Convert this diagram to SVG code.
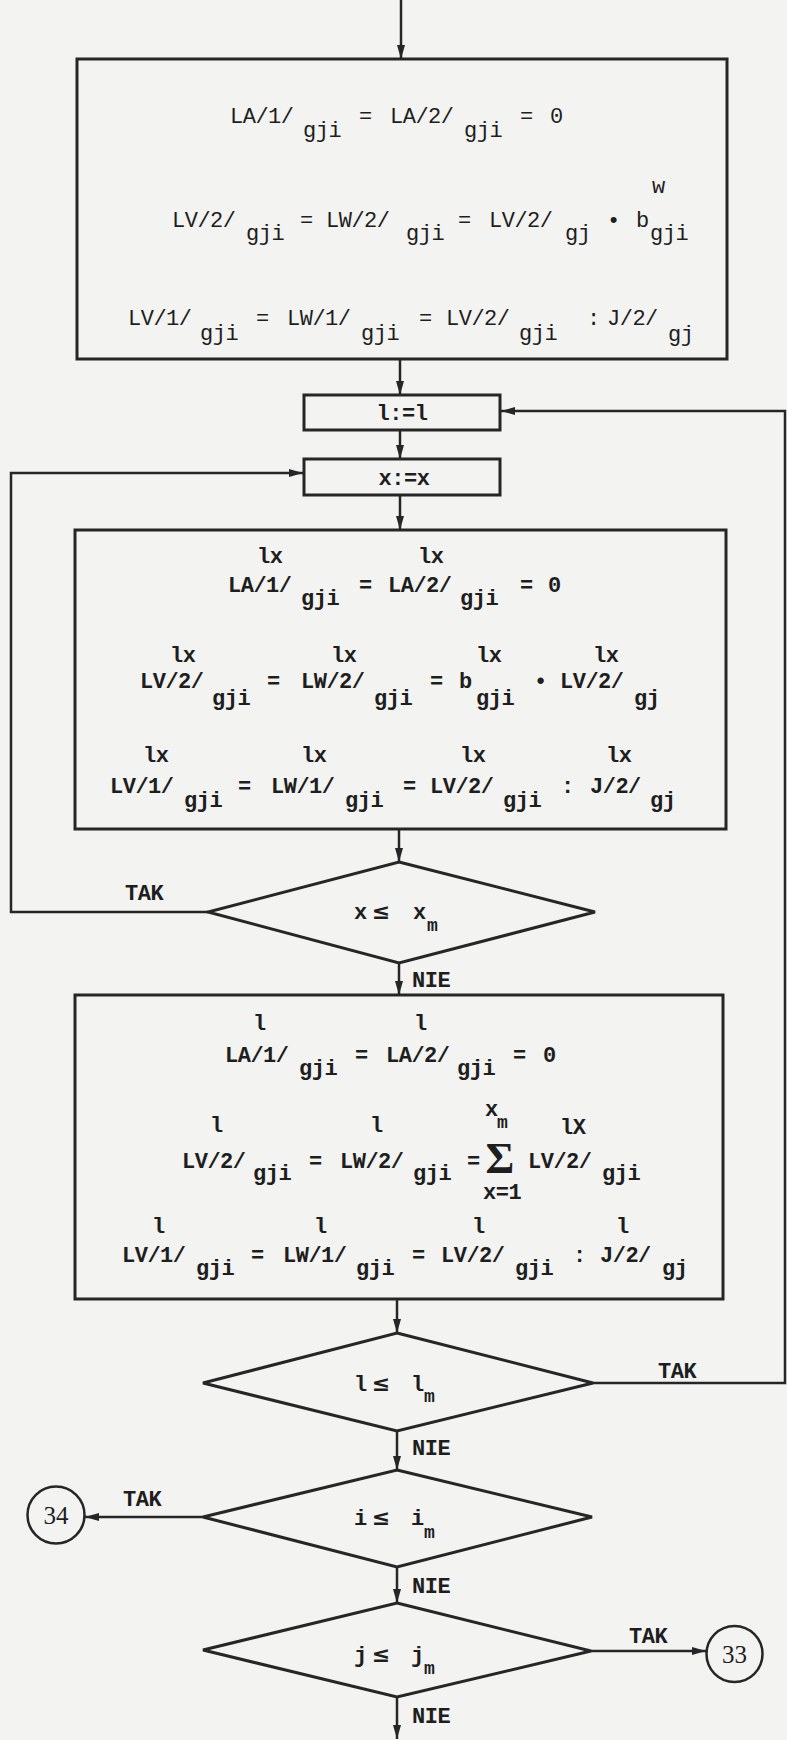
<svg xmlns="http://www.w3.org/2000/svg" width="787" height="1740" viewBox="0 0 787 1740">
<defs>
<marker id="ah" markerUnits="userSpaceOnUse" markerWidth="14" markerHeight="8" refX="14" refY="4" orient="auto">
<path d="M0,0 L14,4 L0,8 z" fill="#262626"/>
</marker>
</defs>
<style>
.bx{fill:#f3f3f1;stroke:#262626;stroke-width:3}
.ln{fill:none;stroke:#262626;stroke-width:2.5;marker-end:url(#ah)}
text{font-family:"Liberation Mono","DejaVu Sans Mono",monospace;fill:#1e1e1e}
.b{font-size:22px;font-weight:bold;letter-spacing:-0.5px}
.r{font-size:22px;letter-spacing:-0.5px}
.sm{font-size:18px;font-weight:bold}
.le{font-family:"DejaVu Sans",sans-serif;font-size:22px;font-weight:bold;text-anchor:middle}
.sg{font-family:"Liberation Serif",serif;font-size:44px;font-weight:bold;text-anchor:middle}
.c{font-family:"Liberation Serif",serif;font-size:25px;text-anchor:middle}
</style>
<rect width="787" height="1740" fill="#f3f3f1"/>

<g id="connectors">
<path class="ln" d="M401,0 V59"/>
<path class="ln" d="M400,359 V395"/>
<path class="ln" d="M400,430 V459"/>
<path class="ln" d="M400,495 V530"/>
<path class="ln" d="M399,829 V862"/>
<path class="ln" d="M208,912 H11 V473 H303"/>
<path class="ln" d="M399,963 V995"/>
<path class="ln" d="M397,1299 V1333"/>
<path class="ln" d="M593,1383 H785 V411 H501"/>
<path class="ln" d="M397,1431 V1470"/>
<path class="ln" d="M203,1517 H85"/>
<path class="ln" d="M397,1567 V1603"/>
<path class="ln" d="M591,1651 H706"/>
<path class="ln" d="M397,1697 V1739"/>
</g>

<g id="box1">
<rect class="bx" x="77" y="59" width="650" height="300"/>
<text class="r" x="230" y="123">LA/1/</text>
<text class="r" x="303" y="137">gji</text>
<text class="r" x="359" y="123">=</text>
<text class="r" x="390" y="123">LA/2/</text>
<text class="r" x="464" y="137">gji</text>
<text class="r" x="520" y="123">=</text>
<text class="r" x="550" y="123">0</text>

<text class="r" x="172" y="227">LV/2/</text>
<text class="r" x="246" y="240">gji</text>
<text class="r" x="300" y="227">=</text>
<text class="r" x="326" y="227">LW/2/</text>
<text class="r" x="406" y="240">gji</text>
<text class="r" x="458" y="227">=</text>
<text class="r" x="489" y="227">LV/2/</text>
<text class="r" x="565" y="240">gj</text>
<text class="r" x="607" y="227">•</text>
<text class="r" x="636" y="227">b</text>
<text class="r" x="652" y="193">w</text>
<text class="r" x="650" y="240">gji</text>

<text class="r" x="128" y="325">LV/1/</text>
<text class="r" x="200" y="340">gji</text>
<text class="r" x="256" y="325">=</text>
<text class="r" x="287" y="325">LW/1/</text>
<text class="r" x="361" y="340">gji</text>
<text class="r" x="419" y="325">=</text>
<text class="r" x="446" y="325">LV/2/</text>
<text class="r" x="519" y="340">gji</text>
<text class="r" x="587" y="325">:</text>
<text class="r" x="607" y="325">J/2/</text>
<text class="r" x="668" y="341">gj</text>
</g>

<g id="init-l">
<rect class="bx" x="304" y="395" width="196" height="35"/>
<text class="b" x="402" y="420" text-anchor="middle">l:=l</text>
</g>

<g id="init-x">
<rect class="bx" x="304" y="459" width="196" height="36"/>
<text class="b" x="404" y="485" text-anchor="middle">x:=x</text>
</g>

<g id="box2">
<rect class="bx" x="75" y="530" width="651" height="299"/>
<text class="b" x="257" y="563">lx</text>
<text class="b" x="228" y="592">LA/1/</text>
<text class="b" x="301" y="605">gji</text>
<text class="b" x="359" y="592">=</text>
<text class="b" x="418" y="563">lx</text>
<text class="b" x="388" y="592">LA/2/</text>
<text class="b" x="460" y="605">gji</text>
<text class="b" x="520" y="592">=</text>
<text class="b" x="548" y="592">0</text>

<text class="b" x="170" y="662">lx</text>
<text class="b" x="140" y="688">LV/2/</text>
<text class="b" x="212" y="705">gji</text>
<text class="b" x="267" y="688">=</text>
<text class="b" x="331" y="662">lx</text>
<text class="b" x="301" y="688">LW/2/</text>
<text class="b" x="374" y="705">gji</text>
<text class="b" x="430" y="688">=</text>
<text class="b" x="459" y="688">b</text>
<text class="b" x="476" y="662">lx</text>
<text class="b" x="476" y="705">gji</text>
<text class="b" x="534" y="688">•</text>
<text class="b" x="593" y="662">lx</text>
<text class="b" x="560" y="688">LV/2/</text>
<text class="b" x="634" y="705">gj</text>

<text class="b" x="143" y="762">lx</text>
<text class="b" x="110" y="793">LV/1/</text>
<text class="b" x="184" y="807">gji</text>
<text class="b" x="238" y="793">=</text>
<text class="b" x="301" y="762">lx</text>
<text class="b" x="271" y="793">LW/1/</text>
<text class="b" x="345" y="807">gji</text>
<text class="b" x="403" y="793">=</text>
<text class="b" x="460" y="762">lx</text>
<text class="b" x="430" y="793">LV/2/</text>
<text class="b" x="503" y="807">gji</text>
<text class="b" x="561" y="793">:</text>
<text class="b" x="606" y="762">lx</text>
<text class="b" x="590" y="793">J/2/</text>
<text class="b" x="650" y="807">gj</text>
</g>

<g id="dec-x">
<polygon class="bx" points="399,862 595,912 399,963 208,912"/>
<text class="b" x="354" y="919">x</text>
<text class="le" x="381" y="919">≤</text>
<text class="b" x="413" y="919">x</text>
<text class="sm" x="427" y="931">m</text>
<text class="b" x="125" y="900">TAK</text>
<text class="b" x="412" y="987">NIE</text>
</g>

<g id="box3">
<rect class="bx" x="75" y="995" width="648" height="304"/>
<text class="b" x="253" y="1030">l</text>
<text class="b" x="225" y="1062">LA/1/</text>
<text class="b" x="299" y="1075">gji</text>
<text class="b" x="355" y="1062">=</text>
<text class="b" x="414" y="1030">l</text>
<text class="b" x="386" y="1062">LA/2/</text>
<text class="b" x="457" y="1075">gji</text>
<text class="b" x="513" y="1062">=</text>
<text class="b" x="543" y="1062">0</text>

<text class="b" x="210" y="1132">l</text>
<text class="b" x="182" y="1168">LV/2/</text>
<text class="b" x="253" y="1180">gji</text>
<text class="b" x="309" y="1168">=</text>
<text class="b" x="370" y="1132">l</text>
<text class="b" x="340" y="1168">LW/2/</text>
<text class="b" x="413" y="1180">gji</text>
<text class="b" x="467" y="1168">=</text>
<text class="sg" x="500" y="1173">Σ</text>
<text class="b" x="485" y="1116">x</text>
<text class="sm" x="497" y="1128">m</text>
<text class="b" x="483" y="1199">x=1</text>
<text class="b" x="560" y="1134">lX</text>
<text class="b" x="528" y="1168">LV/2/</text>
<text class="b" x="602" y="1180">gji</text>

<text class="b" x="152" y="1233">l</text>
<text class="b" x="122" y="1262">LV/1/</text>
<text class="b" x="196" y="1275">gji</text>
<text class="b" x="251" y="1262">=</text>
<text class="b" x="314" y="1233">l</text>
<text class="b" x="283" y="1262">LW/1/</text>
<text class="b" x="356" y="1275">gji</text>
<text class="b" x="412" y="1262">=</text>
<text class="b" x="472" y="1233">l</text>
<text class="b" x="441" y="1262">LV/2/</text>
<text class="b" x="515" y="1275">gji</text>
<text class="b" x="573" y="1262">:</text>
<text class="b" x="616" y="1233">l</text>
<text class="b" x="600" y="1262">J/2/</text>
<text class="b" x="662" y="1275">gj</text>
</g>

<g id="dec-l">
<polygon class="bx" points="397,1333 593,1383 397,1431 203,1383"/>
<text class="b" x="354" y="1391">l</text>
<text class="le" x="381" y="1391">≤</text>
<text class="b" x="411" y="1391">l</text>
<text class="sm" x="424" y="1402">m</text>
<text class="b" x="658" y="1378">TAK</text>
<text class="b" x="412" y="1455">NIE</text>
</g>

<g id="dec-i">
<polygon class="bx" points="397,1470 592,1517 397,1567 203,1517"/>
<text class="b" x="354" y="1525">i</text>
<text class="le" x="381" y="1525">≤</text>
<text class="b" x="411" y="1525">i</text>
<text class="sm" x="424" y="1538">m</text>
<text class="b" x="123" y="1506">TAK</text>
<text class="b" x="412" y="1593">NIE</text>
</g>

<g id="dec-j">
<polygon class="bx" points="397,1603 591,1651 397,1697 203,1650"/>
<text class="b" x="354" y="1662">j</text>
<text class="le" x="381" y="1662">≤</text>
<text class="b" x="411" y="1662">j</text>
<text class="sm" x="424" y="1674">m</text>
<text class="b" x="629" y="1643">TAK</text>
<text class="b" x="412" y="1723">NIE</text>
</g>

<g id="conn-34">
<circle cx="56" cy="1515" r="28.5" fill="#f3f3f1" stroke="#262626" stroke-width="2.5"/>
<text class="c" x="56" y="1524">34</text>
</g>

<g id="conn-33">
<circle cx="734.5" cy="1654" r="28" fill="#f3f3f1" stroke="#262626" stroke-width="2.5"/>
<text class="c" x="734.5" y="1663">33</text>
</g>
</svg>
